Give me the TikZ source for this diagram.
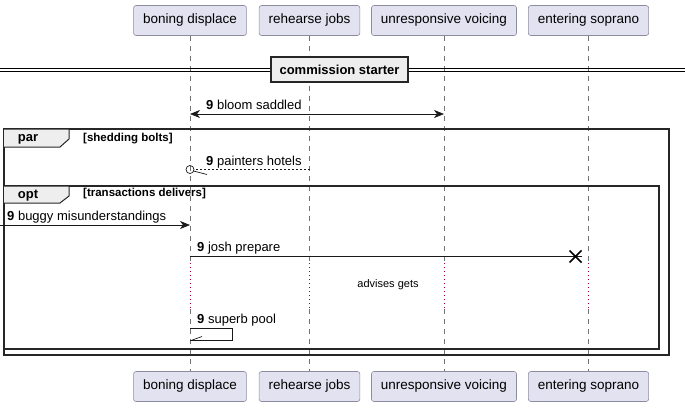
\documentclass[tikz,border=0pt]{standalone}
\usepackage{fontspec}
\setmainfont{Liberation Sans}
\usetikzlibrary{arrows.meta,calc}
\definecolor{partfill}{HTML}{E2E2F0}
\definecolor{partline}{HTML}{8C8CA0}
\definecolor{tabfill}{HTML}{EEEEEE}
\definecolor{delaydot}{HTML}{A80036}
\def\fsz#1{\fontsize{#1}{#1}\selectfont}

\tikzset{
	part/.style={draw=partline, fill=partfill, rounded corners=2.5pt, minimum height=30pt, inner xsep=9.5pt, line width=0.6pt, font=\fsz{13.5}},
	life/.style={draw=black!55, line width=0.5pt, dash pattern=on 5pt off 5pt},
	dly/.style={draw=delaydot, line width=0.6pt, dash pattern=on 1pt off 3pt},
	msg/.style={draw=black!90, line width=0.7pt},
	head/.style={-{Stealth[length=10pt,width=8pt,inset=3pt]}},
	lbl/.style={inner sep=0pt, anchor=base west, font=\fsz{13}},
	grd/.style={inner sep=0pt, anchor=west, font=\bfseries\fsz{11.5}},
	frm/.style={draw=black!85, line width=1.5pt},
	tab/.style={draw=black!85, line width=1pt, fill=tabfill}
}

\begin{document}
\begin{tikzpicture}[x=1pt, y=-1pt]
	%%%%% START %%%%%
	\useasboundingbox (0,0) rectangle (685,408);
	
	% participants, top and bottom
	\node[part] (bd) at (190,20.5) {boning displace};
	\node[part] (rj) at (309.5,20.5) {rehearse jobs};
	\node[part] (uv) at (444,20.5) {unresponsive voicing};
	\node[part] (es) at (588.5,20.5) {entering soprano};
	
	\node[part] (bdb) at (190,386.5) {boning displace};
	\node[part] (rjb) at (309.5,386.5) {rehearse jobs};
	\node[part] (uvb) at (444,386.5) {unresponsive voicing};
	\node[part] (esb) at (588.5,386.5) {entering soprano};
	
	% lifelines, dotted over the delay
	\coordinate (d1) at (0,263);
	\coordinate (d2) at (0,309);
	\draw[life] (bd) -- (bd |- d1);  \draw[dly] (bd |- d1) -- (bd |- d2);  \draw[life] (bd |- d2) -- (bdb);
	\draw[life] (rj) -- (rj |- d1);  \draw[dly] (rj |- d1) -- (rj |- d2);  \draw[life] (rj |- d2) -- (rjb);
	\draw[life] (uv) -- (uv |- d1);  \draw[dly] (uv |- d1) -- (uv |- d2);  \draw[life] (uv |- d2) -- (uvb);
	\draw[life] (es) -- (es |- d1);  \draw[dly] (es |- d1) -- (es |- d2);  \draw[life] (es |- d2) -- (esb);
	
	% divider
	\coordinate (dvl) at (0,68);
	\coordinate (dvr) at (685,68);
	\draw[line width=0.8pt] (dvl) -- (dvr);
	\draw[line width=0.8pt] ([yshift=-3.5pt]dvl) -- ([yshift=-3.5pt]dvr);
	\node[draw=black!85, line width=1.5pt, fill=tabfill, minimum width=137pt, minimum height=25pt, inner sep=0pt, font=\bfseries\fsz{13}] (dv) at (339.5,69.5) {commission starter};
	
	% bloom saddled
	\coordinate (m1) at (0,114);
	\draw[msg, {Stealth[length=10pt,width=8pt,inset=3pt]}-{Stealth[length=10pt,width=8pt,inset=3pt]}] (bd |- m1) -- (uv |- m1);
	\node[lbl] (t1) at ([xshift=16pt,yshift=5pt]bd |- m1) {\textbf{9} bloom saddled};
	
	% par frame
	\draw[frm] (4,129) rectangle (669,355);
	\draw[tab] (4,129) -- (69,129) -- (69,139) -- (60,147) -- (4,147);
	\node[font=\bfseries\fsz{13}, inner sep=0pt] (par) at (28,139) {par};
	\node[grd] (g1) at (83,138.5) {[shedding bolts]};
	
	% painters hotels
	\coordinate (m2) at (0,169.5);
	\draw[msg, dash pattern=on 2pt off 2pt] (rj |- m2) -- ([xshift=4pt]bd |- m2);
	\draw[msg] (bd |- m2) circle (4);
	\draw[msg] ([xshift=3.5pt,yshift=-1.5pt]bd |- m2) -- ([xshift=17pt,yshift=-5pt]bd |- m2);
	\node[lbl] (t2) at ([xshift=16pt,yshift=4.5pt]bd |- m2) {\textbf{9} painters hotels};
	
	% opt frame
	\draw[frm] (4,186) rectangle (659,349);
	\draw[tab] (4,186) -- (69,186) -- (69,196) -- (60,203) -- (4,203);
	\node[font=\bfseries\fsz{13}, inner sep=0pt] (opt) at (28,196) {opt};
	\node[grd] (g2) at (83,194) {[transactions delivers]};
	
	% buggy misunderstandings
	\coordinate (m3) at (0,225);
	\draw[msg, head] (m3) -- (bd |- m3);
	\node[lbl] (t3) at ([xshift=7pt,yshift=4.5pt]m3) {\textbf{9} buggy misunderstandings};
	
	% josh prepare
	\coordinate (m4) at (0,256.5);
	\coordinate (x4) at (575.5,256.5);
	\draw[msg] (bd |- m4) -- ([xshift=6pt]x4);
	\draw[line width=1.5pt] ([xshift=-6pt,yshift=6pt]x4) -- ([xshift=6pt,yshift=-6pt]x4);
	\draw[line width=1.5pt] ([xshift=-6pt,yshift=-6pt]x4) -- ([xshift=6pt,yshift=6pt]x4);
	\node[lbl] (t4) at ([xshift=7pt,yshift=5pt]bd |- m4) {\textbf{9} josh prepare};
	
	% delay
	\node[font=\fsz{11}, inner sep=0pt] (dl) at (388,285) {advises gets};
	
	% superb pool
	\coordinate (m5) at (0,328.5);
	\coordinate (m5b) at (0,340.5);
	\draw[msg] (bd |- m5) -- ([xshift=42pt]bd |- m5) -- ([xshift=42pt]bd |- m5b) -- (bd |- m5b);
	\draw[msg] ([xshift=1pt]bd |- m5b) -- ([xshift=12pt,yshift=4pt]bd |- m5b);
	\node[lbl] (t5) at ([xshift=7pt,yshift=5pt]bd |- m5) {\textbf{9} superb pool};
	
	%%%%% END %%%%%
\end{tikzpicture}
\end{document}
